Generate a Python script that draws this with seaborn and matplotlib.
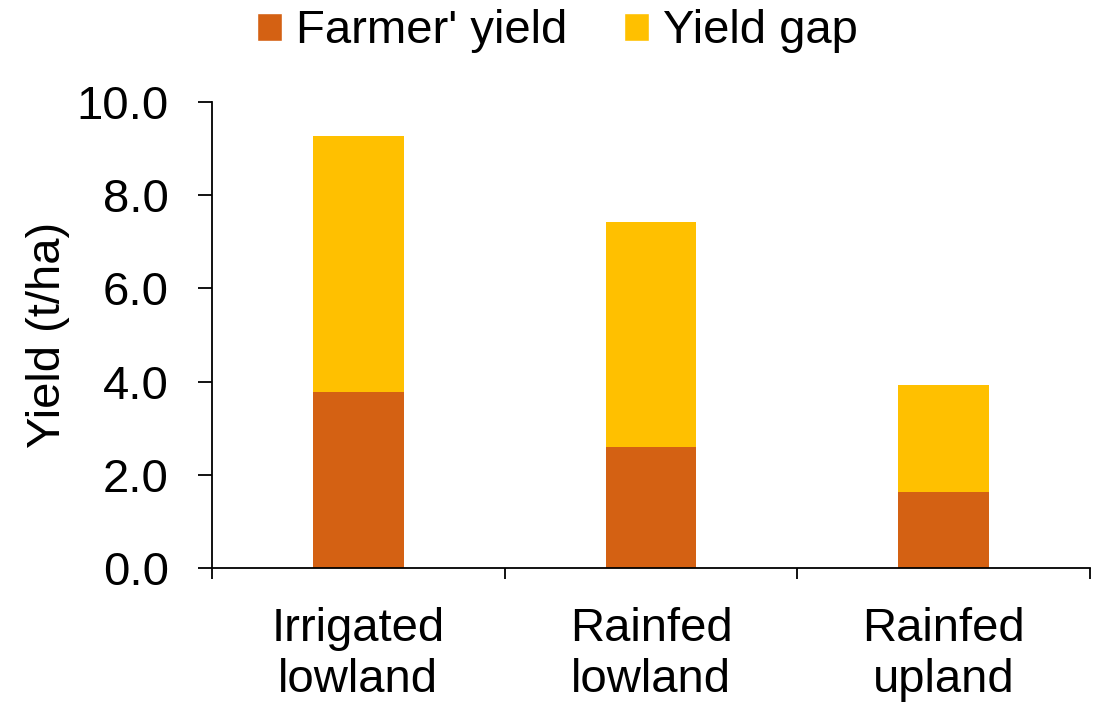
import matplotlib
matplotlib.use("Agg")
import matplotlib.pyplot as plt
from matplotlib.patches import Patch
from matplotlib.ticker import FixedLocator
import seaborn as sns
import pandas as pd

# Rice yield by ecosystem (t/ha)
categories = ["Irrigated\nlowland", "Rainfed\nlowland", "Rainfed\nupland"]
farmer_yield = [3.77, 2.59, 1.64]
yield_gap = [5.51, 4.84, 2.29]

sns.set_theme(style="white")
plt.rcParams["font.family"] = ["Liberation Sans", "DejaVu Sans"]
plt.rcParams["text.color"] = "black"
plt.rcParams["axes.labelcolor"] = "black"
plt.rcParams["xtick.color"] = "black"
plt.rcParams["ytick.color"] = "black"

FARMER_COLOR = "#D46113"
GAP_COLOR = "#FFC000"

df = pd.DataFrame({
    "category": categories,
    "farmer": farmer_yield,
    "gap": yield_gap,
})
df["total"] = df["farmer"] + df["gap"]

fig = plt.figure(figsize=(11.03, 7.06), dpi=100)
ax = fig.add_axes([0.1922, 0.1955, 0.7960, 0.6600])

# Stacked bars: total height in gap colour, farmer yield drawn over it
sns.barplot(data=df, x="category", y="total", color=GAP_COLOR,
            width=0.31, saturation=1, linewidth=0, ax=ax)
sns.barplot(data=df, x="category", y="farmer", color=FARMER_COLOR,
            width=0.31, saturation=1, linewidth=0, ax=ax)

ax.set_ylim(0, 10)
ax.set_xlim(-0.5, 2.5)
ax.set_yticks([0, 2, 4, 6, 8, 10])
ax.set_yticklabels([f"{v:.1f}" for v in [0, 2, 4, 6, 8, 10]])
ax.set_ylabel("Yield (t/ha)", fontsize=34, labelpad=5)
ax.set_xlabel("")

for s in ["top", "right"]:
    ax.spines[s].set_visible(False)
for s in ["left", "bottom"]:
    ax.spines[s].set_color("#000000")
    ax.spines[s].set_linewidth(1.3)

ax.tick_params(axis="y", direction="out", length=10, width=1.3,
               color="#000000", labelsize=34, pad=21, left=True)
ax.tick_params(axis="x", which="major", length=0, labelsize=34, pad=28)
ax.xaxis.set_minor_locator(FixedLocator([-0.5, 0.5, 1.5, 2.5]))
ax.tick_params(axis="x", which="minor", direction="out", length=8,
               width=1.3, color="#000000", bottom=True)
for lbl in ax.get_xticklabels():
    lbl.set_linespacing(1.2)

handles = [Patch(facecolor=FARMER_COLOR, label="Farmer' yield"),
           Patch(facecolor=GAP_COLOR, label="Yield gap")]
fig.legend(handles=handles, loc="upper center", bbox_to_anchor=(0.5055, 1.047),
           ncol=2, frameon=False, fontsize=34, handlelength=0.53,
           handleheight=0.53, handletextpad=0.3, columnspacing=1.19)

fig.savefig("out.png", dpi=100)
